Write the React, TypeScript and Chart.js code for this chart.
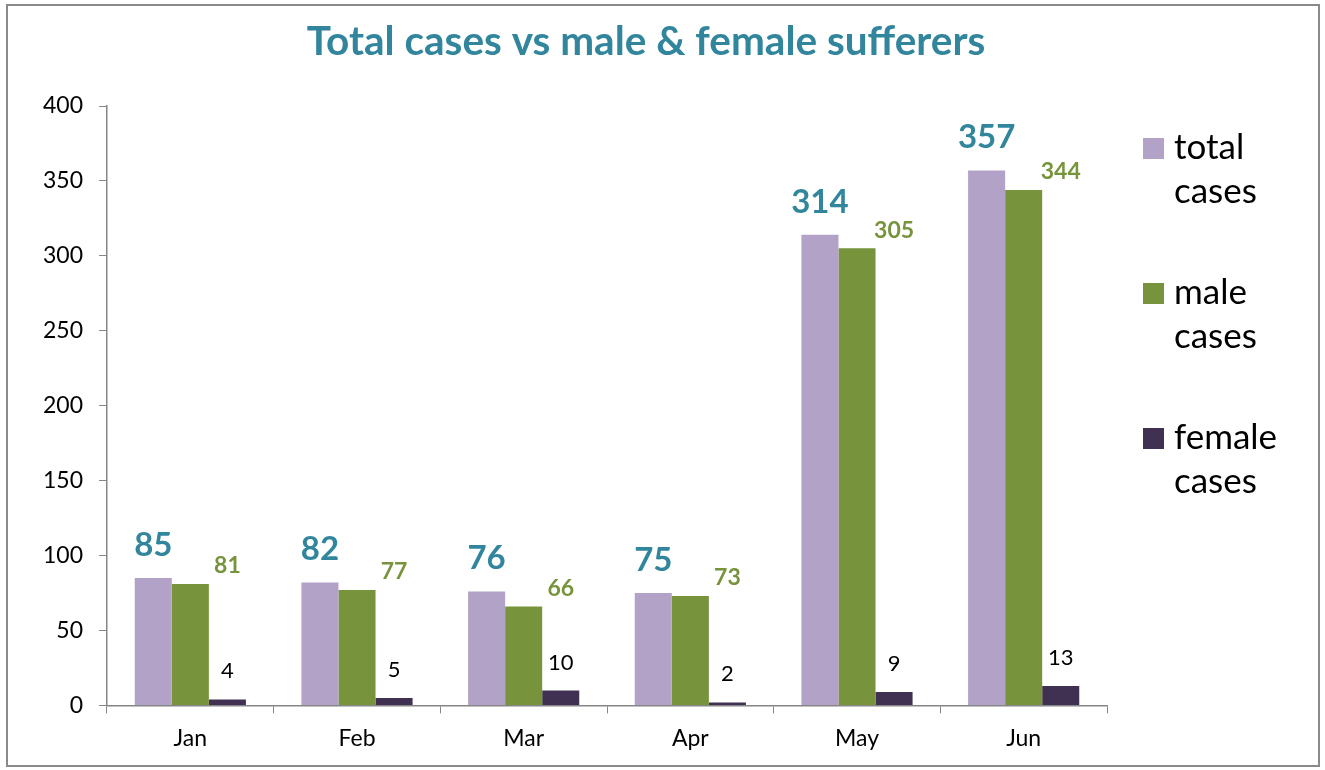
import React, { useEffect, useRef } from "react";
import { Chart, registerables } from "chart.js";

Chart.register(...registerables);

const months = ["Jan", "Feb", "Mar", "Apr", "May", "Jun"];
const totalCases = [85, 82, 76, 75, 314, 357];
const maleCases = [81, 77, 66, 73, 305, 344];
const femaleCases = [4, 5, 10, 2, 9, 13];
const seriesNames = ["total cases", "male cases", "female cases"];
const titleText = "Total cases vs male & female sufferers";

const FONT = "Lato, 'Open Sans', sans-serif";
const COLORS = ["#B3A2C7", "#77933C", "#403152"];

const labelStyles = [
  { color: "#31859C", size: 33, weight: "bold", dx: 0, dy: 33 },
  { color: "#77933C", size: 23, weight: "bold", dx: 1, dy: 18 },
  { color: "#000000", size: 22, weight: "normal", dx: 0, dy: 28 },
];

const framePlugin = {
  id: "frame",
  beforeDraw(chart: any) {
    const ctx = chart.ctx;
    ctx.save();
    ctx.fillStyle = "#ffffff";
    ctx.fillRect(0, 0, chart.width, chart.height);
    ctx.strokeStyle = "#8a8a8a";
    ctx.lineWidth = 2;
    ctx.strokeRect(7, 5, chart.width - 13, chart.height - 9);
    ctx.restore();
  },
};

const titlePlugin = {
  id: "centerTitle",
  afterDraw(chart: any) {
    const ctx = chart.ctx;
    ctx.save();
    ctx.fillStyle = "#31859C";
    ctx.font = `bold 40.5px ${FONT}`;
    ctx.textAlign = "center";
    ctx.textBaseline = "middle";
    ctx.fillText(titleText, 646, 42);
    ctx.restore();
  },
};

const valueLabelPlugin = {
  id: "valueLabels",
  afterDatasetsDraw(chart: any) {
    const ctx = chart.ctx;
    ctx.save();
    ctx.textAlign = "center";
    ctx.textBaseline = "middle";
    chart.data.datasets.forEach((ds: any, di: number) => {
      const meta = chart.getDatasetMeta(di);
      const st = labelStyles[di];
      ctx.fillStyle = st.color;
      ctx.font = `${st.weight} ${st.size}px ${FONT}`;
      meta.data.forEach((el: any, i: number) => {
        const w = el.width || 0;
        const x = el.x + st.dx * w;
        const y = el.y - st.dy;
        ctx.fillText(String(ds.data[i]), x, y);
      });
    });
    ctx.restore();
  },
};

const sideLegendPlugin = {
  id: "sideLegend",
  afterDraw(chart: any) {
    const ctx = chart.ctx;
    const area = chart.chartArea;
    const sx = area.right + 36;
    const tx = sx + 31;
    ctx.save();
    ctx.font = `35px ${FONT}`;
    ctx.textAlign = "left";
    ctx.textBaseline = "alphabetic";
    chart.data.datasets.forEach((ds: any, i: number) => {
      const top = 138 + i * 145;
      ctx.fillStyle = ds.backgroundColor;
      ctx.fillRect(sx, top, 21, 21);
      ctx.fillStyle = "#000000";
      const words = String(ds.label).split(" ");
      words.forEach((w: string, li: number) => {
        ctx.fillText(w, tx, top + 21 + li * 44);
      });
    });
    ctx.restore();
  },
};

export default function App() {
  const ref = useRef<HTMLCanvasElement | null>(null);

  useEffect(() => {
    if (!ref.current) return;
    const series = [totalCases, maleCases, femaleCases];
    const chart = new Chart(ref.current, {
      type: "bar",
      data: {
        labels: months,
        datasets: series.map((d, i) => ({
          label: seriesNames[i],
          data: d,
          backgroundColor: COLORS[i],
          borderWidth: 0,
          barPercentage: 1,
          categoryPercentage: 0.667,
        })),
      },
      options: {
        animation: false,
        responsive: false,
        maintainAspectRatio: false,
        layout: { padding: { left: 0, right: 218, top: 106, bottom: 7 } },
        plugins: {
          legend: { display: false },
          tooltip: { enabled: false },
          title: { display: false },
        },
        scales: {
          x: {
            offset: true,
            grid: {
              display: true,
              drawOnChartArea: false,
              drawTicks: true,
              tickLength: 8,
              color: "#868686",
              offset: true,
            },
            border: { display: true, color: "#868686", width: 1.5 },
            ticks: {
              color: "#000000",
              font: { family: FONT, size: 23 },
              padding: 11,
            },
          },
          y: {
            min: 0,
            max: 400,
            grid: {
              display: true,
              drawOnChartArea: false,
              drawTicks: true,
              tickLength: 8,
              color: "#868686",
            },
            border: { display: true, color: "#868686", width: 1.5 },
            ticks: {
              stepSize: 50,
              color: "#000000",
              font: { family: FONT, size: 23 },
              padding: 16,
            },
            afterFit(scale: any) {
              scale.width = 107;
            },
          },
        },
      },
      plugins: [framePlugin, valueLabelPlugin, sideLegendPlugin, titlePlugin],
    });
    return () => chart.destroy();
  }, []);

  return (
    <div style={{ position: "fixed", left: 0, top: 0, width: 1325, height: 770 }}>
      <canvas ref={ref} width={1325} height={770} style={{ width: 1325, height: 770 }} />
    </div>
  );
}
